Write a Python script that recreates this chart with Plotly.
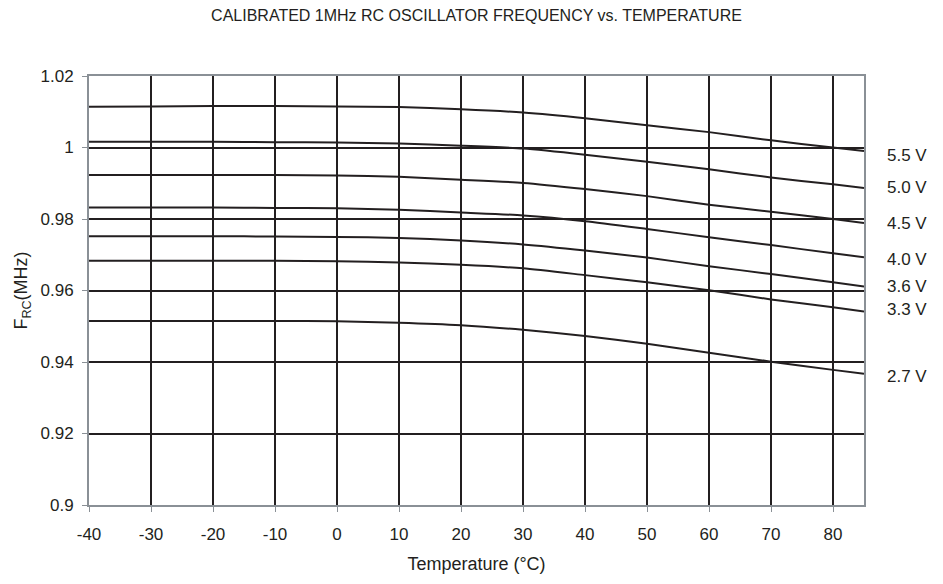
"""
Calibrated 1 MHz RC oscillator frequency vs. temperature, one curve per supply voltage.
"""
import plotly.graph_objects as go

# temperature points (deg C)
temperature = [-40, -30, -20, -10, 0, 10, 20, 30, 40, 50, 60, 70, 80, 85]

# frequency (MHz) per supply voltage
f_5v5 = [1.0114, 1.0115, 1.0116, 1.0116, 1.0115, 1.0113, 1.0107, 1.0098, 1.0082, 1.0062, 1.0043, 1.0020, 1.0000, 0.9990]
f_5v0 = [1.0016, 1.0016, 1.0016, 1.0015, 1.0014, 1.0011, 1.0005, 0.9997, 0.9980, 0.9960, 0.9939, 0.9916, 0.9897, 0.9887]
f_4v5 = [0.9923, 0.9923, 0.9923, 0.9923, 0.9922, 0.9918, 0.9910, 0.9901, 0.9884, 0.9864, 0.9840, 0.9820, 0.9800, 0.9789]
f_4v0 = [0.9832, 0.9832, 0.9832, 0.9831, 0.9830, 0.9826, 0.9818, 0.9810, 0.9794, 0.9772, 0.9749, 0.9727, 0.9704, 0.9693]
f_3v6 = [0.9752, 0.9752, 0.9752, 0.9751, 0.9750, 0.9747, 0.9740, 0.9729, 0.9712, 0.9692, 0.9668, 0.9646, 0.9623, 0.9611]
f_3v3 = [0.9683, 0.9683, 0.9683, 0.9683, 0.9682, 0.9678, 0.9672, 0.9662, 0.9643, 0.9623, 0.9601, 0.9575, 0.9553, 0.9541]
f_2v7 = [0.9515, 0.9515, 0.9515, 0.9515, 0.9514, 0.9510, 0.9503, 0.9490, 0.9473, 0.9451, 0.9426, 0.9401, 0.9378, 0.9367]

voltage_labels = ["5.5 V", "5.0 V", "4.5 V", "4.0 V", "3.6 V", "3.3 V", "2.7 V"]
series = [f_5v5, f_5v0, f_4v5, f_4v0, f_3v6, f_3v3, f_2v7]

x_ticks = [-40, -30, -20, -10, 0, 10, 20, 30, 40, 50, 60, 70, 80]
x_tick_text = ["-40", "-30", "-20", "-10", "0", "10", "20", "30", "40", "50", "60", "70", "80"]
y_ticks = [0.9, 0.92, 0.94, 0.96, 0.98, 1.0, 1.02]
y_tick_text = ["0.9", "0.92", "0.94", "0.96", "0.98", "1", "1.02"]

FONT = "Liberation Sans, Arial, sans-serif"
INK = "#231f20"
FRAME = "#8a9096"

fig = go.Figure()
for values, name in zip(series, voltage_labels):
    fig.add_trace(go.Scatter(
        x=temperature, y=values, name=name, mode="lines",
        line=dict(color=INK, width=2, shape="spline", smoothing=0.6),
        showlegend=False,
    ))

# voltage labels right of the plot, small nudges to match the original
label_shift = [-4, 0, -1, -2, 0, 2, -3]
for values, name, dy in zip(series, voltage_labels, label_shift):
    fig.add_annotation(
        x=1, xref="paper", y=values[-1], yref="y",
        text=name, showarrow=False, xanchor="left", yanchor="middle",
        xshift=21, yshift=dy,
        font=dict(family=FONT, size=17, color=INK),
    )

# page body adds an 8px margin, so the figure is 8px smaller than the window
fig.update_layout(
    width=935, height=576,
    margin=dict(l=81, r=79, t=68, b=79),
    paper_bgcolor="white", plot_bgcolor="white",
    title=dict(
        text="CALIBRATED 1MHz RC OSCILLATOR FREQUENCY vs. TEMPERATURE",
        x=0.5, xref="paper", xanchor="center", y=0.988, yanchor="middle",
        font=dict(family=FONT, size=16, color=INK),
    ),
    font=dict(family=FONT, size=17, color=INK),
)

fig.update_xaxes(
    range=[-40, 85], tickvals=x_ticks, ticktext=x_tick_text,
    showgrid=True, gridcolor=INK, gridwidth=2,
    zeroline=False,
    showline=True, linecolor=FRAME, linewidth=2, mirror=True,
    ticks="outside", ticklen=5, tickcolor=FRAME, tickwidth=1,
    ticklabelstandoff=8,
    tickfont=dict(family=FONT, size=17, color=INK),
    title=dict(text="Temperature (°C)", standoff=14,
               font=dict(family=FONT, size=18, color=INK)),
)
fig.update_yaxes(
    range=[0.9, 1.02], tickvals=y_ticks, ticktext=y_tick_text,
    showgrid=True, gridcolor=INK, gridwidth=2,
    zeroline=False,
    showline=True, linecolor=FRAME, linewidth=2, mirror=True,
    ticks="outside", ticklen=5, tickcolor=FRAME, tickwidth=1,
    ticklabelstandoff=5,
    tickfont=dict(family=FONT, size=17, color=INK),
    title=dict(text="F<sub>RC</sub>(MHz)", standoff=8,
               font=dict(family=FONT, size=18, color=INK)),
)

fig.write_html("out.html")
